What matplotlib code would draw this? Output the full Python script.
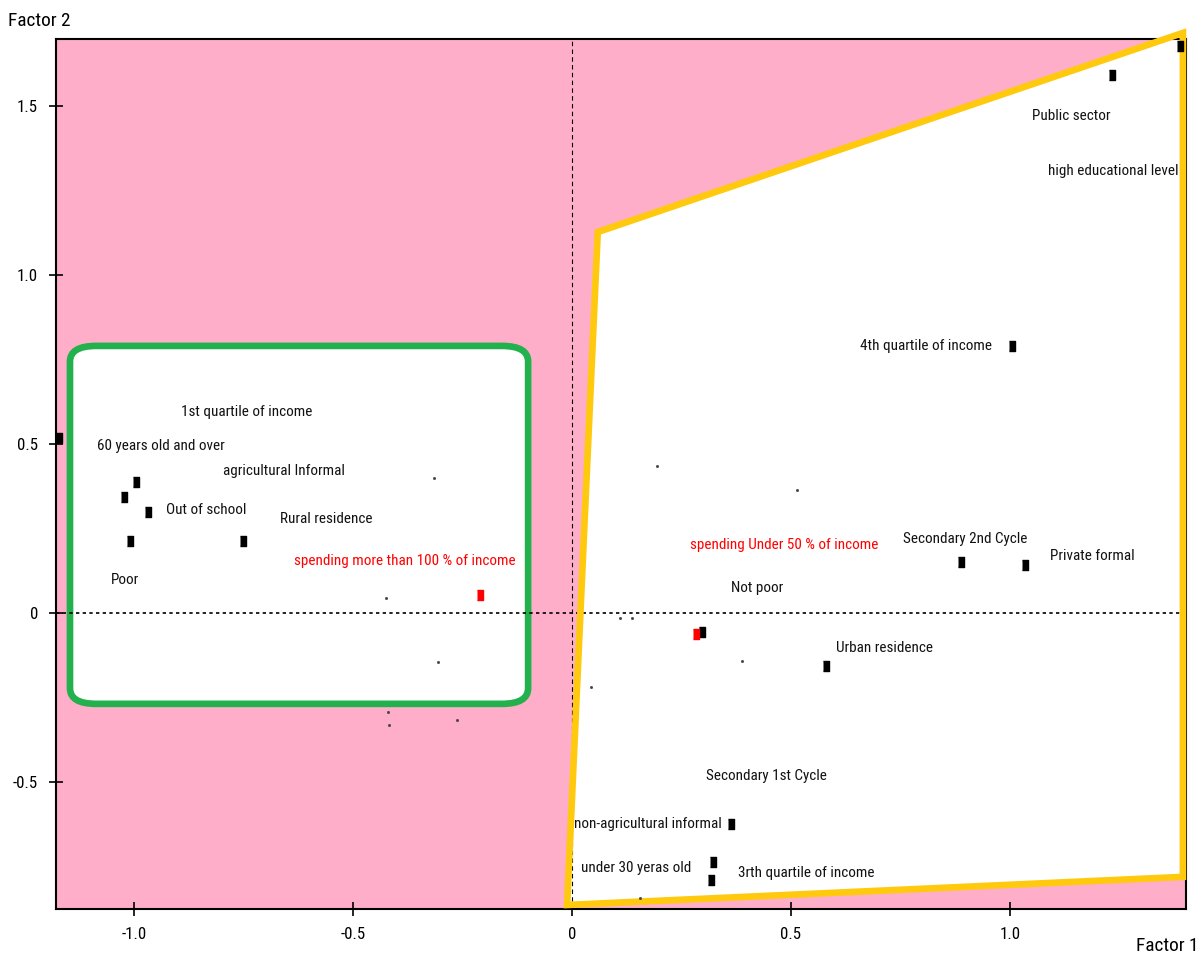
import matplotlib.pyplot as plt
from matplotlib.patches import Polygon, FancyBboxPatch
from matplotlib.ticker import FixedLocator, FuncFormatter
from matplotlib import font_manager

# category points (black squares)
pt_x = [-1.17, -0.995, -1.023, -0.968, -1.009, -0.751, 0.297, 0.580, 0.888, 1.034, 1.005, 1.233, 1.388, 0.363, 0.322, 0.317]
pt_y = [0.518, 0.388, 0.343, 0.299, 0.213, 0.213, -0.056, -0.157, 0.151, 0.142, 0.790, 1.592, 1.678, -0.624, -0.737, -0.790]

# spending categories (red squares)
red_x = [-0.210, 0.283]
red_y = [0.053, -0.062]

# supplementary points (tiny dots)
dot_x = [-0.315, -0.425, -0.306, -0.42, -0.418, -0.263, 0.194, 0.514, 0.110, 0.137, 0.388, 0.043, 0.155]
dot_y = [0.40, 0.044, -0.145, -0.293, -0.331, -0.317, 0.435, 0.364, -0.015, -0.015, -0.142, -0.219, -0.843]

# labels (x is the anchor given by lab_ha)
labels = ["1st quartile of income", "60 years old and over", "agricultural Informal", "Out of school",
          "Rural residence", "Poor", "Not poor", "Secondary 2nd Cycle", "Private formal",
          "Urban residence", "4th quartile of income", "Public sector", "high educational level",
          "Secondary 1st Cycle", "non-agricultural informal", "under 30 yeras old", "3rth quartile of income"]
lab_x = [-0.742, -0.938, -0.658, -0.927, -0.562, -1.021, 0.422, 1.039, 1.091, 0.603, 0.959, 1.139, 1.384,
         0.443, 0.343, 0.272, 0.379]
lab_y = [0.595, 0.494, 0.420, 0.305, 0.278, 0.098, 0.074, 0.219, 0.169, -0.104, 0.790, 1.470, 1.308,
         -0.482, -0.624, -0.754, -0.769]
lab_ha = ['center', 'center', 'center', 'left', 'center', 'center', 'center', 'right', 'left',
          'left', 'right', 'center', 'right', 'center', 'right', 'right', 'left']

red_labels = ["spending more than 100 % of income", "spending Under 50 % of income"]
red_lab_x = [-0.128, 0.699]
red_lab_y = [0.154, 0.201]

# highlighted zones
poly_x = [0.059, 1.395, 1.395, -0.011]
poly_y = [1.127, 1.716, -0.781, -0.864]
box_x0, box_x1 = -1.146, -0.100
box_y0, box_y1 = -0.269, 0.790

# look for a narrow font (the original uses Arial Narrow)
def pick_font():
    regular = [f for f in font_manager.fontManager.ttflist
               if f.style == 'normal' and f.weight in (400, 'normal', 'regular')]
    for f in regular:
        if f.name == 'Liberation Sans Narrow':
            return f.fname
    for key in ('NotoSans-Condensed.', 'RobotoCondensed-Regular', 'DejaVuSansCondensed.ttf'):
        for f in regular:
            if key in f.fname:
                return f.fname
    for f in regular:
        if 'Condensed' in f.fname and 'Bold' not in f.fname and 'Oblique' not in f.fname:
            return f.fname
    return None

fname = pick_font()
fp = font_manager.FontProperties(fname=fname) if fname else font_manager.FontProperties(family='Liberation Sans')

pink = '#FFAEC9'
yellow = '#FFC90E'
green = '#22B14C'

fig = plt.figure(figsize=(12.01, 9.61), dpi=100)
renderer = fig.canvas.get_renderer()


def fit_size(s, target_px):
    t = fig.text(0, 0, s, fontproperties=fp, fontsize=10)
    w = t.get_window_extent(renderer=renderer).width
    t.remove()
    return 10 * target_px / w


# the original text is taller and narrower than any installed face, so go a bit wider
lab_size = fit_size("Secondary 1st Cycle", 118) * 1.02
tick_size = fit_size("-0.5", 21) * 1.2
axis_size = fit_size("Factor 2", 54) * 1.15

ax = fig.add_axes([0.0466, 0.0541, 0.9409, 0.9053])
ax.set_facecolor(pink)
ax.set_xlim(-1.178, 1.402)
ax.set_ylim(-0.876, 1.698)

# white polygon with yellow border
ax.add_patch(Polygon(list(zip(poly_x, poly_y)), closed=True, facecolor='white', edgecolor='none', zorder=1))
ax.add_patch(Polygon(list(zip(poly_x, poly_y)), closed=True, facecolor='none', edgecolor=yellow,
                     linewidth=4.8, joinstyle='miter', zorder=4, clip_on=False))

# green rounded box
ax.add_patch(FancyBboxPatch((box_x0, box_y0), box_x1 - box_x0, box_y1 - box_y0,
                            boxstyle='round,pad=0,rounding_size=0.06', mutation_aspect=0.77,
                            facecolor='white', edgecolor=green, linewidth=4.8, zorder=2))

ax.axhline(0, color='black', linestyle=(0, (2, 2)), linewidth=1.2, zorder=3)
ax.axvline(0, color='black', linestyle=(0, (4, 3)), linewidth=0.8, zorder=3)

sq = [(-0.7, -1), (0.7, -1), (0.7, 1), (-0.7, 1)]
ax.plot(pt_x, pt_y, linestyle='none', marker=sq, markersize=7, color='black', zorder=5, clip_on=False)
ax.plot(red_x, red_y, linestyle='none', marker=sq, markersize=6.5, color='red', zorder=5)
ax.plot(dot_x, dot_y, linestyle='none', marker='s', markersize=1, color='#444444', zorder=5)

for t, x, y, ha in zip(labels, lab_x, lab_y, lab_ha):
    ax.text(x, y, t, fontproperties=fp, fontsize=lab_size, color='#111111', ha=ha, va='center', zorder=6)
for t, x, y in zip(red_labels, red_lab_x, red_lab_y):
    ax.text(x, y, t, fontproperties=fp, fontsize=lab_size, color='red', ha='right', va='center', zorder=6)

ax.xaxis.set_major_locator(FixedLocator([-1.0, -0.5, 0, 0.5, 1.0]))
ax.yaxis.set_major_locator(FixedLocator([-0.5, 0, 0.5, 1.0, 1.5]))
fmt = FuncFormatter(lambda v, p: '0' if abs(v) < 1e-9 else '%.1f' % v)
ax.xaxis.set_major_formatter(fmt)
ax.yaxis.set_major_formatter(fmt)
ax.tick_params(direction='inout', length=10, width=1.2, pad=8)
for lab in ax.get_xticklabels() + ax.get_yticklabels():
    lab.set_fontproperties(fp)
    lab.set_fontsize(tick_size)
for s in ax.spines.values():
    s.set_linewidth(1.5)

fig.text(0.007, 0.988, 'Factor 2', fontproperties=fp, fontsize=axis_size, ha='left', va='top')
fig.text(0.998, 0.006, 'Factor 1', fontproperties=fp, fontsize=axis_size, ha='right', va='bottom')

fig.savefig('out.png', dpi=100)
